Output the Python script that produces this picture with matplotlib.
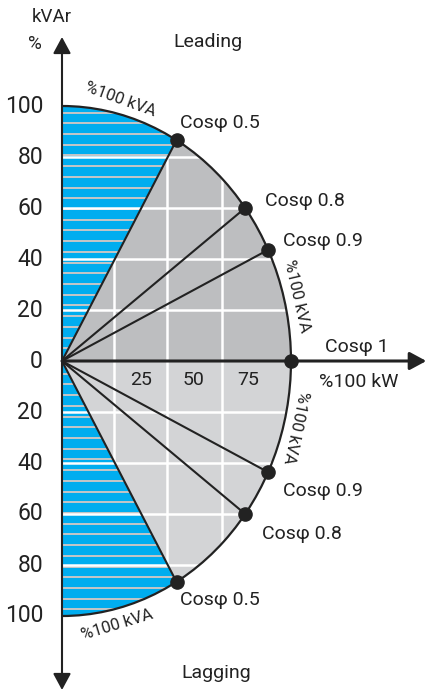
import numpy as np
import matplotlib
matplotlib.use('Agg')
import matplotlib.pyplot as plt
from matplotlib.patches import Wedge, Arc

plt.rcParams['font.family'] = ['Roboto', 'DejaVu Sans']

# chart values
kvar_ticks = [100, 80, 60, 40, 20, 0, -20, -40, -60, -80, -100]
kw_tick_labels = ['25', '50', '75']
leading_pf = [0.5, 0.8, 0.9]
lagging_pf = [0.9, 0.8, 0.5]
unity_pf = 1.0
radius = 100

# colours
BLUE = '#00adef'
DARK_GREY = '#bdbec0'
LIGHT_GREY = '#d3d4d6'
STRIPE = '#c6c6c6'
INK = '#222222'

# pixel layout of the origin and scale (px per %)
ox, oy = 62, 361
sx, sy = 2.29, 2.55

fig = plt.figure(figsize=(4.27, 6.95), dpi=100)
ax = fig.add_axes([0, 0, 1, 1])
ax.set_xlim(-ox / sx, (427 - ox) / sx)
ax.set_ylim(-(695 - oy) / sy, oy / sy)
ax.axis('off')

ang_lead = np.degrees(np.arccos(min(leading_pf)))
ang_lag = np.degrees(np.arccos(min(lagging_pf)))

# shaded sectors
ax.add_patch(Wedge((0, 0), radius, 0, ang_lead, facecolor=DARK_GREY, edgecolor='none', zorder=1))
ax.add_patch(Wedge((0, 0), radius, -ang_lag, 0, facecolor=LIGHT_GREY, edgecolor='none', zorder=1))

half_disk = Wedge((0, 0), radius, -90, 90, transform=ax.transData)

# vertical grid lines (cells), drawn under the blue zone
xgrid = np.array([22.8, 45.9, 69.9])
vg = ax.vlines(xgrid, -radius, radius, colors='white', lw=1.8, zorder=2)
vg.set_clip_path(half_disk)

# blue zones
blue_up = Wedge((0, 0), radius, ang_lead, 90, facecolor=BLUE, edgecolor='none', zorder=3)
blue_dn = Wedge((0, 0), radius, -90, -ang_lag, facecolor=BLUE, edgecolor='none', zorder=3)
ax.add_patch(blue_up)
ax.add_patch(blue_dn)

stripes = 0.8 + 4.2 * np.arange(1, 25)
s1 = ax.hlines(stripes, 0, radius, colors=STRIPE, lw=1.4, zorder=4)
s1.set_clip_path(blue_up)
s2 = ax.hlines(-stripes, 0, radius, colors=STRIPE, lw=1.4, zorder=4)
s2.set_clip_path(blue_dn)

# horizontal grid lines
ygrid = [t for t in kvar_ticks if t not in (0, 100, -100)]
hg = ax.hlines(ygrid, 0, radius, colors='white', lw=1.8, zorder=5)
hg.set_clip_path(half_disk)

# 100 % kVA arc
ax.add_patch(Arc((0, 0), 2 * radius, 2 * radius, theta1=-90, theta2=90,
                 color=INK, lw=1.6, zorder=7))

# power factor rays and points
px, py = [], []
for pf in leading_pf:
    px.append(radius * pf)
    py.append(radius * np.sqrt(1 - pf ** 2))
for pf in lagging_pf:
    px.append(radius * pf)
    py.append(-radius * np.sqrt(1 - pf ** 2))
for x, y in zip(px, py):
    ax.plot([0, x], [0, y], color=INK, lw=1.5, zorder=6, solid_capstyle='butt')
px.append(radius * unity_pf)
py.append(0)
ax.plot(px, py, 'o', color=INK, ms=9.5, zorder=9)

# axes with arrow heads
xmax = (427 - ox) / sx - 0.3
ytop = (oy - 37) / sy
ybot = -(690 - oy) / sy
arrow = dict(arrowstyle='-|>,head_length=0.5,head_width=0.27', color=INK,
             shrinkA=0, shrinkB=0, mutation_scale=20)
ax.annotate('', xy=(xmax, 0), xytext=(0, 0), arrowprops=dict(arrow, lw=2.2), zorder=8)
ax.annotate('', xy=(0, ytop), xytext=(0, 0), arrowprops=dict(arrow, lw=1.5), zorder=8)
ax.annotate('', xy=(0, ybot), xytext=(0, 0), arrowprops=dict(arrow, lw=1.5), zorder=8)

# tick labels
for t in kvar_ticks:
    ax.text(-8.3, t, str(abs(t)), ha='right', va='center', fontsize=16.5, color=INK, zorder=10)
for x, lab in zip(xgrid + 11.6, kw_tick_labels):
    ax.text(x, -7.5, lab, ha='center', va='center', fontsize=14, color=INK, zorder=10)

# power factor labels
pf_labels = [f'Cos\u03c6 {pf:g}' for pf in leading_pf] + [f'Cos\u03c6 {pf:g}' for pf in lagging_pf]
pf_label_pos = [(51.5, 91.4), (88.6, 60.8), (96.5, 45.1),
                (96.5, -52.9), (87.3, -69.8), (51.5, -95.7)]
for (x, y), lab in zip(pf_label_pos, pf_labels):
    ax.text(x, y, lab, ha='left', va='baseline', fontsize=14, color=INK, zorder=10)
ax.text(114.8, 3.5, f'Cos\u03c6 {unity_pf:g}', ha='left', va='baseline', fontsize=14, color=INK)
ax.text(112.2, -10.2, '%100 kW', ha='left', va='baseline', fontsize=14, color=INK)

# arc labels
for (x, y, rot) in [(25.3, 102.4, -20), (102.6, 25.5, -77), (102.2, -25.9, -102), (24.0, -103.5, 17)]:
    ax.text(x, y, '%100 kVA', rotation=rot, rotation_mode='anchor', ha='center', va='center',
            fontsize=12, color=INK, zorder=10)

ax.text(48.5, 123.1, 'Leading', ha='left', va='baseline', fontsize=14, color=INK)
ax.text(52.0, -124.3, 'Lagging', ha='left', va='baseline', fontsize=14, color=INK)
ax.text(-13.1, 133.1, 'kVAr', ha='left', va='baseline', fontsize=13.5, color=INK)
ax.text(-11.8, 122.4, '%', ha='center', va='baseline', fontsize=13.5, color=INK)

fig.savefig('out.png', dpi=100)
